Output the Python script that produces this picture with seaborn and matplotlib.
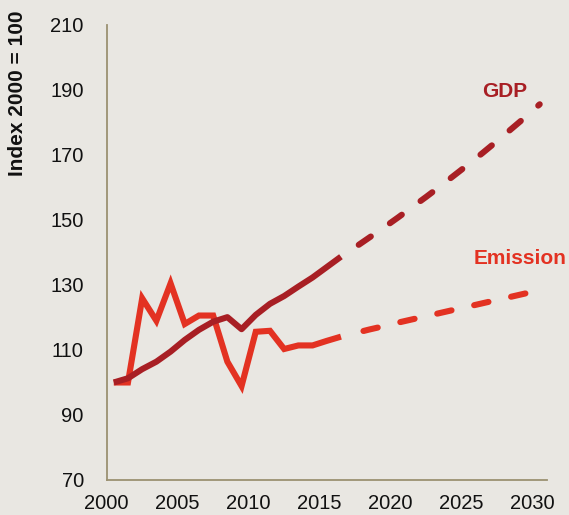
import numpy as np
import pandas as pd
import matplotlib
matplotlib.use("Agg")
import matplotlib.pyplot as plt
import seaborn as sns

# ---- data ----
hist_years = list(range(2000, 2017))
gdp_hist = [100, 101.3, 104.1, 106.4, 109.5, 113.1, 116.2, 118.7, 120.1, 116.4,
            120.8, 124.2, 126.6, 129.5, 132.3, 135.5, 138.7]
emission_hist = [100, 100, 125.9, 119.0, 130.5, 118.0, 120.6, 120.6, 106.4, 98.9,
                 115.6, 115.9, 110.3, 111.4, 111.4, 112.8, 114.1]

proj_years = list(range(2016, 2031))
gdp_proj = [138.7, 141.6, 144.6, 147.6, 150.7, 153.9, 157.1, 160.4, 163.8, 167.2,
            170.7, 174.3, 178.0, 181.7, 185.6]
emission_proj = [114.1, 115.2, 116.3, 117.3, 118.4, 119.4, 120.4, 121.4, 122.4, 123.4,
                 124.4, 125.4, 126.4, 127.4, 128.4]

x_ticks = [2000, 2005, 2010, 2015, 2020, 2025, 2030]
y_ticks = [70, 90, 110, 130, 150, 170, 190, 210]

series_labels = ["GDP", "Emission"]
y_label = "Index 2000 = 100"

# ---- style ----
BG = "#E9E7E2"
AXC = "#9B9172"
GDP_C = "#A81F24"
EM_C = "#E33222"

sns.set_theme(style="white")
plt.rcParams["font.family"] = ["Liberation Sans", "DejaVu Sans"]

fig = plt.figure(figsize=(5.69, 5.15), dpi=100, facecolor=BG)
ax = fig.add_axes([0.1875, 0.068, 0.961 - 0.1875, 0.9515 - 0.068])
ax.set_facecolor(BG)

# mid-year positions
hist = pd.DataFrame({"x": np.array(hist_years) + 0.5, "gdp": gdp_hist, "em": emission_hist})
proj = pd.DataFrame({"x": np.array(proj_years) + 0.5, "gdp": gdp_proj, "em": emission_proj})

lw = 4.4
pattern = (2.4, 3.8)
sns.lineplot(data=hist, x="x", y="em", ax=ax, color=EM_C, lw=lw,
             solid_capstyle="butt", solid_joinstyle="miter")
sns.lineplot(data=hist, x="x", y="gdp", ax=ax, color=GDP_C, lw=lw,
             solid_capstyle="butt", solid_joinstyle="round")
sns.lineplot(data=proj, x="x", y="em", ax=ax, color=EM_C, lw=lw,
             linestyle=(2.4, pattern), dash_capstyle="round")
sns.lineplot(data=proj, x="x", y="gdp", ax=ax, color=GDP_C, lw=lw,
             linestyle=(2.7, pattern), dash_capstyle="round")

ax.set_xlim(2000, 2031)
ax.set_ylim(70, 210)
ax.set_xticks(x_ticks)
ax.set_yticks(y_ticks)
ax.set_xticklabels([str(v) for v in x_ticks])
ax.set_yticklabels([str(v) for v in y_ticks])

for s in ["top", "right"]:
    ax.spines[s].set_visible(False)
for s in ["left", "bottom"]:
    ax.spines[s].set_color(AXC)
    ax.spines[s].set_linewidth(1.3)

ax.tick_params(axis="both", colors=AXC, width=1.3, labelcolor="#111111", labelsize=14.5)
ax.tick_params(axis="y", direction="out", length=4.5, pad=12)
ax.tick_params(axis="x", direction="out", length=4, pad=6)

ax.set_xlabel("")
ax.set_ylabel(y_label, fontsize=15, fontweight="bold", color="#111111")
ax.yaxis.set_label_coords(-0.181, 0.849)

ax.text(2028.0, 189.4, series_labels[0], color=GDP_C, fontsize=15, fontweight="bold",
        ha="center", va="center")
ax.text(2029.1, 138.3, series_labels[1], color=EM_C, fontsize=15, fontweight="bold",
        ha="center", va="center", clip_on=False)

fig.savefig("out.png", dpi=100, facecolor=BG)
